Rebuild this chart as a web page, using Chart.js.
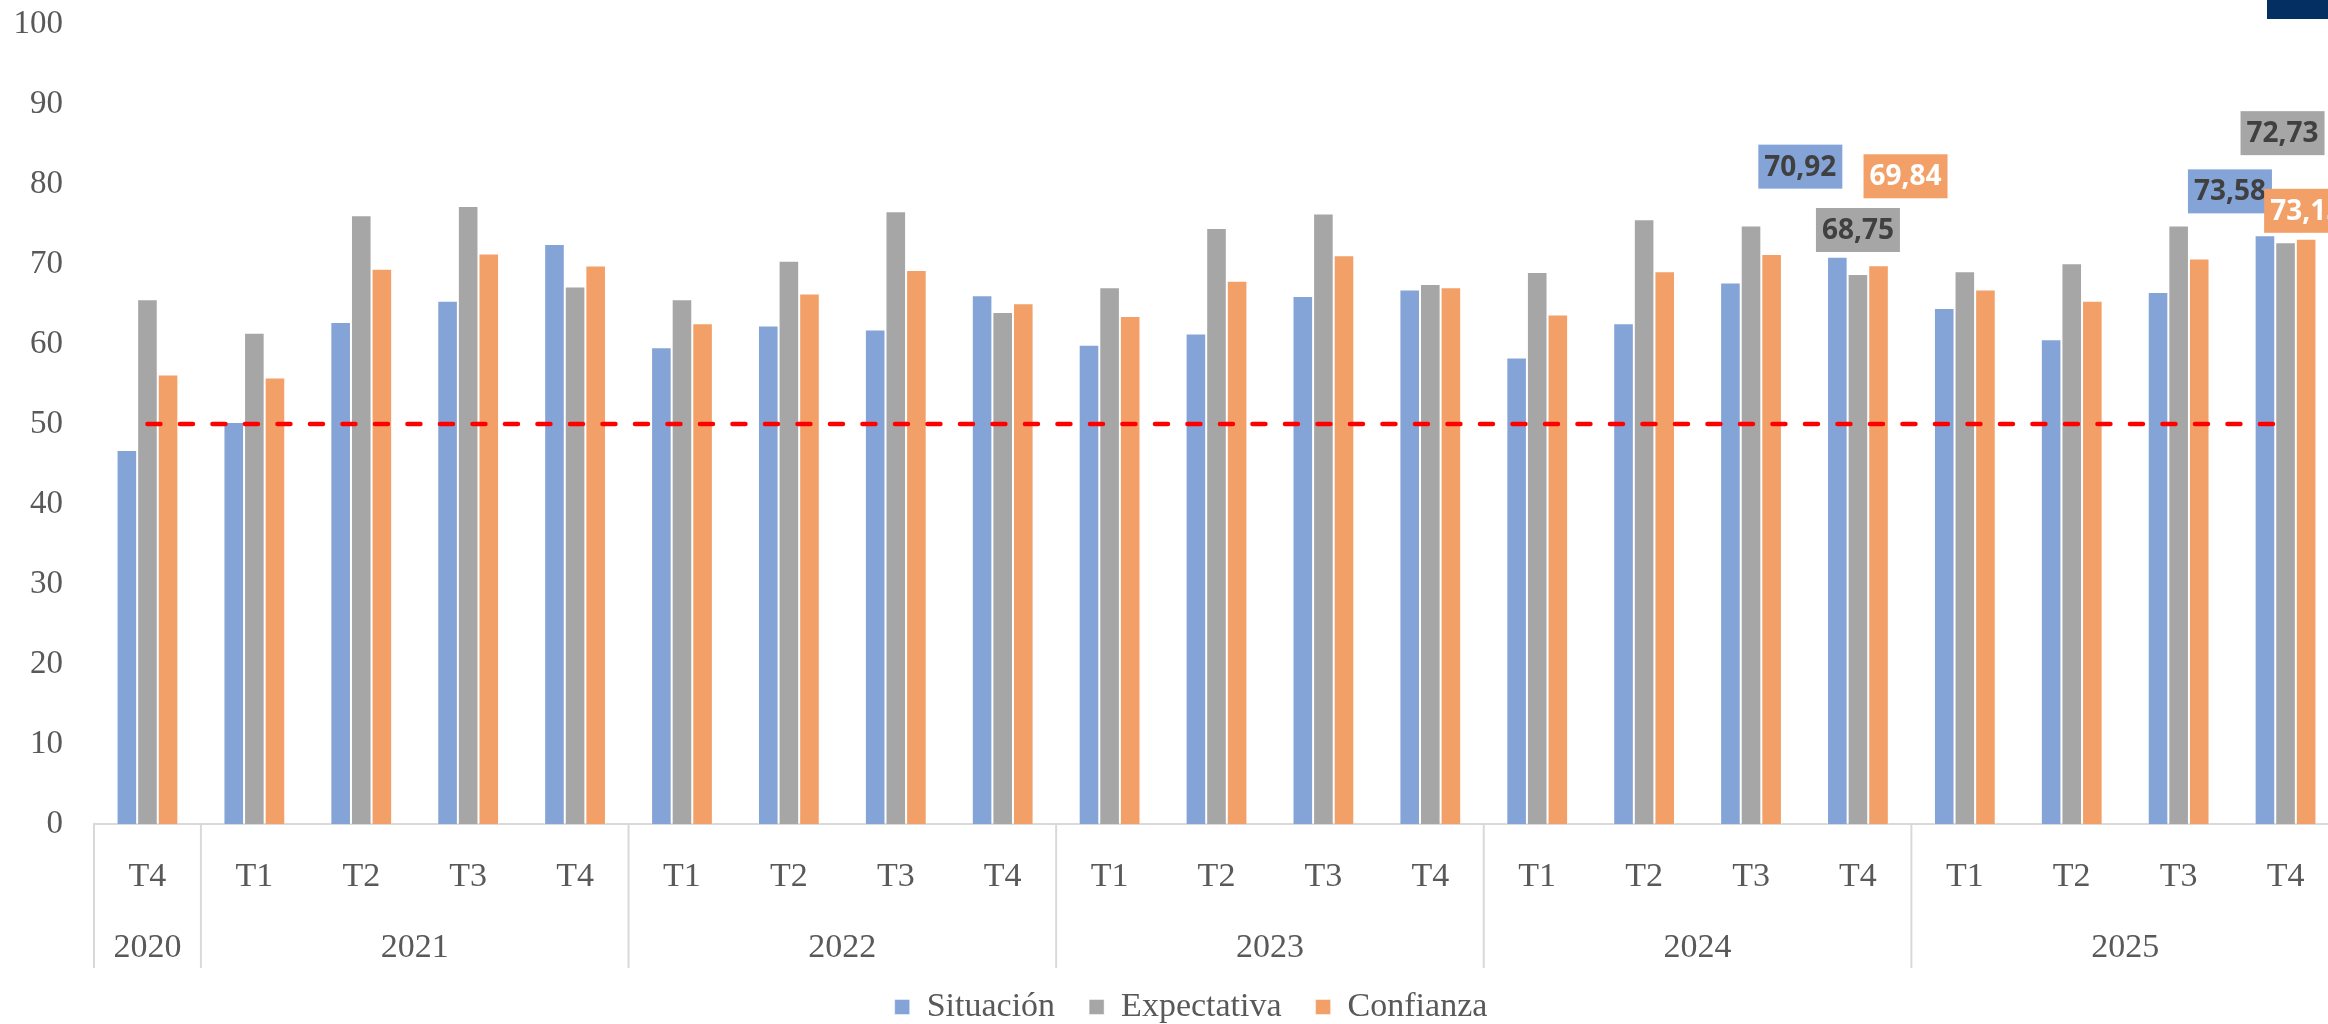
<!DOCTYPE html>
<html>
<head>
<meta charset="utf-8">
<script src="https://cdn.jsdelivr.net/npm/chart.js@4.4.1/dist/chart.umd.min.js"></script>
<style>
  html, body { margin: 0; padding: 0; background: #ffffff; overflow: hidden; }
  #wrap { position: relative; width: 2382px; height: 1034px; }
  #corner { position: absolute; left: 2267px; top: 0; width: 61px; height: 19px; background: #032F63; }
</style>
</head>
<body>
<div id="wrap">
  <canvas id="c" width="2382" height="1034"></canvas>
  <div id="corner"></div>
</div>
<script>
// ---- data ----
const quarters = ['T4','T1','T2','T3','T4','T1','T2','T3','T4','T1','T2','T3','T4','T1','T2','T3','T4','T1','T2','T3','T4'];
const categoryYears = ['2020','2021','2021','2021','2021','2022','2022','2022','2022','2023','2023','2023','2023','2024','2024','2024','2024','2025','2025','2025','2025'];
const situacion   = [46.75, 50.25, 62.75, 65.40, 72.50, 59.60, 62.30, 61.80, 66.10, 59.90, 61.30, 66.00, 66.80, 58.30, 62.60, 67.70, 70.92, 64.50, 60.60, 66.50, 73.58];
const expectativa = [65.60, 61.40, 76.10, 77.25, 67.20, 65.60, 70.40, 76.60, 64.00, 67.10, 74.50, 76.30, 67.50, 69.00, 75.60, 74.80, 68.75, 69.10, 70.10, 74.80, 72.73];
const confianza   = [56.20, 55.80, 69.40, 71.30, 69.80, 62.60, 66.30, 69.25, 65.10, 63.50, 67.90, 71.10, 67.10, 63.70, 69.10, 71.25, 69.84, 66.80, 65.40, 70.70, 73.15];
const umbral      = [50, 50, 50, 50, 50, 50, 50, 50, 50, 50, 50, 50, 50, 50, 50, 50, 50, 50, 50, 50, 50];
const seriesNames = ['Situación', 'Expectativa', 'Confianza'];
const yTicks = [0, 10, 20, 30, 40, 50, 60, 70, 80, 90, 100];

// ---- styles ----
const COLORS = ['#84A3D7', '#A6A6A6', '#F2A068'];
const LABEL_TEXT = ['#404040', '#404040', '#FFFFFF'];
const SERIF = "'Liberation Serif', 'DejaVu Serif', serif";
const AXIS_GREY = '#595959';
const LINE_GREY = '#D9D9D9';

// manual placement of the highlighted value labels (offset of the box centre from the bar top)
const labelPlacement = [
  { ds: 0, idx: 16, dx: -37, dy: -90 },
  { ds: 2, idx: 16, dx: 27,  dy: -89 },
  { ds: 1, idx: 16, dx: 0,   dy: -44 },
  { ds: 0, idx: 20, dx: -35, dy: -44 },
  { ds: 2, idx: 20, dx: 0,   dy: -28 },
  { ds: 1, idx: 20, dx: -3,  dy: -109 }
];

const fmt = v => v.toFixed(2).replace('.', ',');

const yearAxisPlugin = {
  id: 'yearAxis',
  afterDraw(chart) {
    const xs = chart.scales.x;
    const ctx = chart.ctx;
    const n = quarters.length;
    const cw = xs.width / n;
    const top = chart.chartArea.bottom;
    const bottom = top + 144;
    const groups = [];
    categoryYears.forEach((y, i) => {
      const g = groups[groups.length - 1];
      if (g && g.year === y) g.end = i; else groups.push({ year: y, start: i, end: i });
    });
    ctx.save();
    ctx.strokeStyle = LINE_GREY;
    ctx.lineWidth = 2;
    groups.forEach((g, k) => {
      const l = xs.getPixelForValue(g.start) - cw / 2;
      const r = xs.getPixelForValue(g.end) + cw / 2;
      ctx.beginPath(); ctx.moveTo(l, top); ctx.lineTo(l, bottom); ctx.stroke();
      if (k === groups.length - 1) { ctx.beginPath(); ctx.moveTo(r, top); ctx.lineTo(r, bottom); ctx.stroke(); }
      ctx.fillStyle = AXIS_GREY;
      ctx.font = '34px ' + SERIF;
      ctx.textAlign = 'center';
      ctx.textBaseline = 'middle';
      ctx.fillText(g.year, (l + r) / 2, top + 124);
    });
    ctx.restore();
  }
};

const valueLabelPlugin = {
  id: 'valueLabels',
  afterDatasetsDraw(chart) {
    const ctx = chart.ctx;
    ctx.save();
    ctx.font = "bold 28px 'Open Sans', 'Noto Sans', sans-serif";
    ctx.textAlign = 'center';
    ctx.textBaseline = 'middle';
    labelPlacement.forEach(p => {
      const el = chart.getDatasetMeta(p.ds).data[p.idx];
      const v = chart.data.datasets[p.ds].data[p.idx];
      const cx = el.x + p.dx, cy = el.y + p.dy;
      const w = 84, h = 44;
      ctx.fillStyle = COLORS[p.ds];
      ctx.fillRect(cx - w / 2, cy - h / 2, w, h);
      ctx.fillStyle = LABEL_TEXT[p.ds];
      ctx.fillText(fmt(v), cx, cy + 1);
    });
    ctx.restore();
  }
};

const barDs = (i, data) => ({
  type: 'bar',
  label: seriesNames[i],
  data: data,
  backgroundColor: COLORS[i],
  borderColor: 'rgba(255,255,255,0.45)',
  borderWidth: 1,
  categoryPercentage: 0.578,
  barPercentage: 1.0,
  order: 2
});

new Chart(document.getElementById('c'), {
  data: {
    labels: quarters,
    datasets: [
      barDs(0, situacion),
      barDs(1, expectativa),
      barDs(2, confianza),
      {
        type: 'line',
        label: 'Umbral',
        data: umbral,
        borderColor: '#FF0000',
        borderWidth: 4.5,
        borderDash: [13, 19.5],
        borderCapStyle: 'round',
        pointRadius: 0,
        fill: false,
        order: 1
      }
    ]
  },
  options: {
    responsive: false,
    animation: false,
    devicePixelRatio: 1,
    layout: { padding: { left: 0, right: 0, top: 0, bottom: 0 } },
    plugins: {
      tooltip: { enabled: false },
      legend: {
        position: 'bottom',
        labels: {
          filter: item => item.datasetIndex < 3,
          font: { family: SERIF, size: 34 },
          color: AXIS_GREY,
          boxWidth: 15,
          boxHeight: 15,
          padding: 34
        }
      }
    },
    scales: {
      x: {
        type: 'category',
        offset: true,
        grid: { display: false, drawTicks: false },
        border: { display: true, color: LINE_GREY, width: 2 },
        ticks: { font: { family: SERIF, size: 34 }, color: AXIS_GREY, padding: 33, maxRotation: 0, autoSkip: false },
        afterFit: s => { s.height = 1034 - 824 - (34 + 34 + 10); }
      },
      y: {
        min: 0, max: 100,
        afterBuildTicks: s => { s.ticks = yTicks.map(v => ({ value: v })); },
        grid: { display: false, drawTicks: false },
        border: { display: false },
        ticks: { font: { family: SERIF, size: 33 }, color: AXIS_GREY, padding: 31 },
        afterFit: s => { s.width = 94; s.paddingTop = 24; s.paddingBottom = 0; }
      },
      y2: {
        position: 'right',
        display: true,
        grid: { display: false, drawTicks: false },
        border: { display: false },
        ticks: { display: false },
        afterFit: s => { s.width = 43; s.paddingTop = 0; s.paddingBottom = 0; }
      }
    }
  },
  plugins: [yearAxisPlugin, valueLabelPlugin]
});
</script>
</body>
</html>
